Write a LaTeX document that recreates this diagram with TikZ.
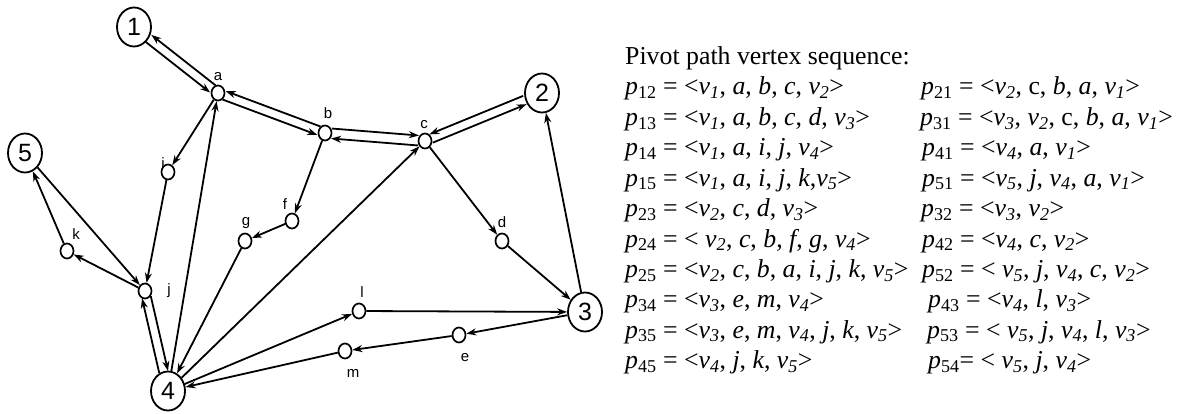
\documentclass[tikz,border=0pt]{standalone}
\usepackage{fontspec}
\setmainfont{Liberation Serif}
\setsansfont{Liberation Sans}
\usetikzlibrary{shapes.geometric,arrows.meta,calc}
\newcommand\PathP[1]{\textit{p}\textsubscript{#1}}
\newcommand\VertV[1]{\textit{v\textsubscript{#1}}}
\begin{document}
\begin{tikzpicture}[x=1pt,y=-1pt,
  big/.style={draw, ellipse, line width=1.8pt, minimum width=34pt, minimum height=39pt, inner sep=0pt, font=\sffamily\fontsize{25}{25}\selectfont},
  small/.style={draw, ellipse, line width=1.7pt, minimum width=13pt, minimum height=15pt, inner sep=0pt},
  lab/.style={font=\sffamily\fontsize{15}{15}\selectfont, inner sep=0pt},
  edge/.style={line width=1.8pt, -{Stealth[length=10pt,width=7pt]}},
  txt/.style={font=\fontsize{25.8}{30}\selectfont, inner sep=0pt, anchor=base west}
]
\useasboundingbox (0,0) rectangle (1185,414);
% big nodes
\node[big] (n1) at (134,27) {1};
\node[big] (n2) at (542,93) {2};
\node[big] (n3) at (585,312) {3};
\node[big] (n4) at (168,391) {4};
\node[big] (n5) at (25,153) {5};
% small nodes
\node[small] (a) at (218,93) {};
\node[small] (b) at (325,133) {};
\node[small] (c) at (425,141) {};
\node[small] (d) at (502,241) {};
\node[small] (e) at (459,335) {};
\node[small] (f) at (292,221) {};
\node[small] (g) at (245,241) {};
\node[small] (i) at (168,172) {};
\node[small] (j) at (145,291) {};
\node[small] (k) at (67,251) {};
\node[small] (l) at (359,311) {};
\node[small] (m) at (345,351) {};
% labels
\node[lab] (la) at (218,77) {a};
\node[lab] (lb) at (328,113) {b};
\node[lab] (lc) at (424,125) {c};
\node[lab] (ld) at (502,222) {d};
\node[lab] (le) at (465,358) {e};
\node[lab] (lf) at (285,204) {f};
\node[lab] (lg) at (246,223) {g};
\node[lab] (li) at (163,163) {i};
\node[lab] (lj) at (169,291) {j};
\node[lab] (lk) at (76,234) {k};
\node[lab] (ll) at (362,292) {l};
\node[lab] (lm) at (353,373) {m};
% two-way pairs (keep right)
\draw[edge, shorten <=18.5pt, shorten >=6.5pt] ($(n1)!4.5pt!-90:(a)$) -- ($(a)!4.5pt!90:(n1)$);
\draw[edge, shorten <=6.5pt, shorten >=18.5pt] ($(a)!4.5pt!-90:(n1)$) -- ($(n1)!4.5pt!90:(a)$);
\draw[edge, shorten <=6.5pt, shorten >=6.5pt] ($(a)!4.5pt!-90:(b)$) -- ($(b)!4.5pt!90:(a)$);
\draw[edge, shorten <=6.5pt, shorten >=6.5pt] ($(b)!4.5pt!-90:(a)$) -- ($(a)!4.5pt!90:(b)$);
\draw[edge, shorten <=6.5pt, shorten >=18.5pt] ($(c)!4.5pt!-90:(n2)$) -- ($(n2)!4.5pt!90:(c)$);
\draw[edge, shorten <=18.5pt, shorten >=6.5pt] ($(n2)!4.5pt!-90:(c)$) -- ($(c)!4.5pt!90:(n2)$);
% two-way pairs (keep left)
\draw[edge, shorten <=6.5pt, shorten >=6.5pt] ($(b)!5pt!90:(c)$) -- ($(c)!5pt!-90:(b)$);
\draw[edge, shorten <=6.5pt, shorten >=6.5pt] ($(c)!5pt!90:(b)$) -- ($(b)!5pt!-90:(c)$);
\draw[edge, shorten <=6.5pt, shorten >=19.5pt] ($(j)!4.5pt!90:(n4)$) -- ($(n4)!4.5pt!-90:(j)$);
\draw[edge, shorten <=19.5pt, shorten >=6.5pt] ($(n4)!4.5pt!90:(j)$) -- ($(j)!4.5pt!-90:(n4)$);
% single edges
\draw[edge] (a) -- (i);
\draw[edge] (i) -- (j);
\draw[edge] (n4) -- (a);
\draw[edge] (b) -- (f);
\draw[edge] (f) -- (g);
\draw[edge] (g) -- (n4);
\draw[edge] (n4) -- (c);
\draw[edge] (c) -- (d);
\draw[edge] (d) -- (n3);
\draw[edge] (n3) -- (n2);
\draw[edge] (n4) -- (l);
\draw[edge] (l) -- (n3);
\draw[edge] (n3) -- (e);
\draw[edge] (e) -- (m);
\draw[edge] (m) -- (n4);
\draw[edge] (n5) -- (j);
\draw[edge] (j) -- (k);
\draw[edge] (k) -- (n5);
% text
\node[txt] (t0) at (625,65) {Pivot path vertex sequence:};
\node[txt] (t1) at (625,95) {\PathP{12} = <\VertV{1}, \textit{a}, \textit{b}, \textit{c}, \VertV{2}>};
\node[txt] (t2) at (625,125.4) {\PathP{13} = <\VertV{1}, \textit{a}, \textit{b}, \textit{c}, \textit{d}, \VertV{3}>};
\node[txt] (t3) at (625,155.8) {\PathP{14} = <\VertV{1}, \textit{a}, \textit{i}, \textit{j}, \VertV{4}>};
\node[txt] (t4) at (625,186.2) {\PathP{15} = <\VertV{1}, \textit{a}, \textit{i}, \textit{j}, \textit{k},\VertV{5}>};
\node[txt] (t5) at (625,216.6) {\PathP{23} = <\VertV{2}, \textit{c}, \textit{d}, \VertV{3}>};
\node[txt] (t6) at (625,247) {\PathP{24} = < \VertV{2}, \textit{c}, \textit{b}, \textit{f}, \textit{g}, \VertV{4}>};
\node[txt] (t7) at (625,277.4) {\PathP{25} = <\VertV{2}, \textit{c}, \textit{b}, \textit{a}, \textit{i}, \textit{j}, \textit{k}, \VertV{5}>};
\node[txt] (t8) at (625,307.8) {\PathP{34} = <\VertV{3}, \textit{e}, \textit{m}, \VertV{4}>};
\node[txt] (t9) at (625,338.2) {\PathP{35} = <\VertV{3}, \textit{e}, \textit{m}, \VertV{4}, \textit{j}, \textit{k}, \VertV{5}>};
\node[txt] (t10) at (625,368.6) {\PathP{45} = <\VertV{4}, \textit{j}, \textit{k}, \VertV{5}>};
\node[txt] (s1) at (921,95) {\PathP{21} = <\VertV{2}, c, \textit{b}, \textit{a}, \VertV{1}>};
\node[txt] (s2) at (920,125.4) {\PathP{31} = <\VertV{3}, \VertV{2}, c, \textit{b}, \textit{a}, \VertV{1}>};
\node[txt] (s3) at (922,155.8) {\PathP{41} = <\VertV{4}, \textit{a}, \VertV{1}>};
\node[txt] (s4) at (922,186.2) {\PathP{51} = <\VertV{5}, \textit{j}, \VertV{4}, \textit{a}, \VertV{1}>};
\node[txt] (s5) at (921,216.6) {\PathP{32} = <\VertV{3}, \VertV{2}>};
\node[txt] (s6) at (922,247) {\PathP{42} = <\VertV{4}, \textit{c}, \VertV{2}>};
\node[txt] (s7) at (922,277.4) {\PathP{52} = < \VertV{5}, \textit{j}, \VertV{4}, \textit{c}, \VertV{2}>};
\node[txt] (s8) at (928,307.8) {\PathP{43} = <\VertV{4}, \textit{l}, \VertV{3}>};
\node[txt] (s9) at (927,338.2) {\PathP{53} = < \VertV{5}, \textit{j}, \VertV{4}, \textit{l}, \VertV{3}>};
\node[txt] (s10) at (928,368.6) {\PathP{54}= < \VertV{5}, \textit{j}, \VertV{4}>};
\end{tikzpicture}
\end{document}
